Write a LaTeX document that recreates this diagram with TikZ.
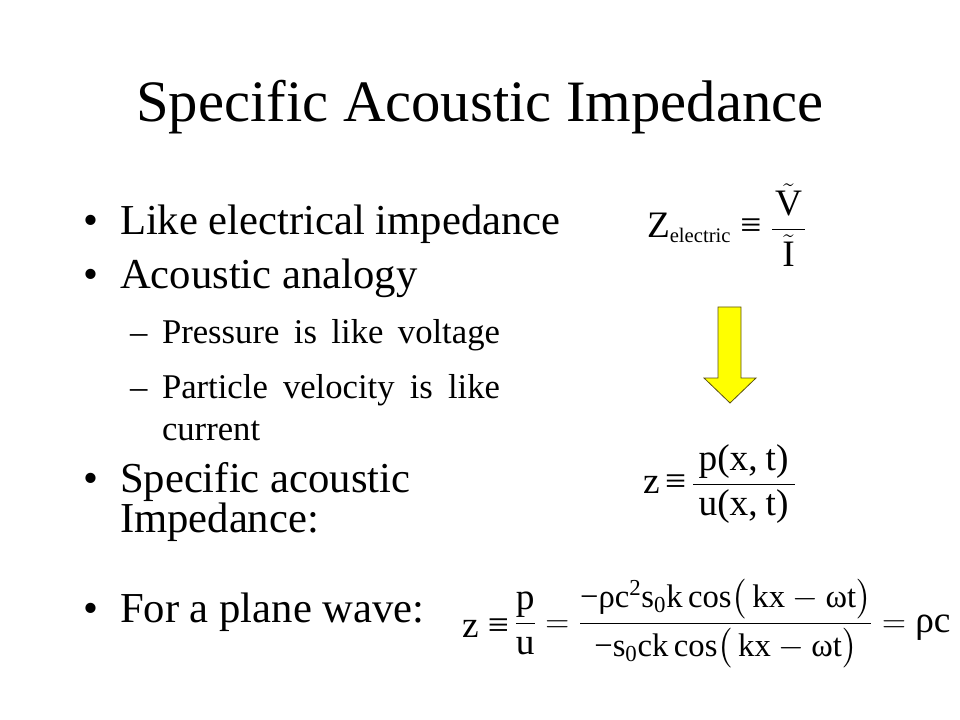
\documentclass[tikz,border=0pt]{standalone}
\usepackage{amsmath}
\usepackage{fontspec}
\setmainfont{Liberation Serif}
\definecolor{arrowyellow}{RGB}{255,255,0}
\definecolor{arrowedge}{RGB}{90,80,20}
\newcommand{\tx}[1]{\text{#1}}
\begin{document}
\begin{tikzpicture}[x=0.75pt,y=-0.75pt]
\useasboundingbox (0,0) rectangle (960,720);
\tikzset{
  txt/.style={anchor=base west,inner sep=0pt,outer sep=0pt},
  lvlone/.style={txt,font=\fontsize{32}{38}\selectfont},
  lvltwo/.style={txt,font=\fontsize{26}{30}\selectfont},
  eqn/.style={txt,font=\fontsize{28}{32}\selectfont},
  blockarrow/.style={fill=arrowyellow,draw=arrowedge,line width=0.6pt,line join=miter}
}
% title
\node[anchor=base,inner sep=0pt] (title) at (480,122) {\fontsize{44}{50}\selectfont Specific Acoustic Impedance};
% bullets
\node[lvlone] (d1) at (83,235) {\textbullet};
\node[lvlone] (b1) at (120,235) {Like electrical impedance};
\node[lvlone] (d2) at (83,288) {\textbullet};
\node[lvlone] (b2) at (120,288) {Acoustic analogy};
\node[lvltwo] (s1d) at (130,343) {–};
\node[lvltwo] (s1) at (162,343) {\makebox[253.5pt][s]{Pressure is like voltage}};
\node[lvltwo] (s2d) at (130,398) {–};
\node[lvltwo] (s2) at (162,398) {\makebox[253.5pt][s]{Particle velocity is like}};
\node[lvltwo] (s2b) at (162,440) {current};
\node[lvlone] (d3) at (83,492) {\textbullet};
\node[lvlone] (b3) at (120,492) {Specific acoustic};
\node[lvlone] (b3b) at (120,532) {Impedance:};
\node[lvlone] (d4) at (83,622) {\textbullet};
\node[lvlone] (b4) at (120,622) {For a plane wave:};
% formula 1
\node[eqn] (f1) at (647,238) {$\tx{Z}_{\tx{\fontsize{15.5}{18}\selectfont electric}}\;\tx{≡}\;\dfrac{\kern2pt\tilde{\tx{V}}\kern2pt}{\tilde{\tx{I}}}$};
% arrow
\draw[blockarrow] (718,307) -- (741,307) -- (741,378) -- (756,378) -- (730,403) -- (704,378) -- (718,378) -- cycle;
% formula 2
\node[eqn] (f2) at (643,493) {$\tx{z}\,\tx{≡}\,\dfrac{\kern4pt\tx{p(x,\kern6pt t)}\kern5pt}{\kern4pt\tx{u(x,\kern6pt t)}\kern5pt}$};
% formula 3
\node[eqn] (f3) at (462,632) {$\raisebox{-4pt}{\tx{z}}\;\raisebox{-4pt}{\tx{≡}}\,\dfrac{\tx{p}}{\tx{u}} = \text{\fontsize{24.5}{28}\selectfont$\dfrac{\tx{−ρc}^{\tx{2}}\tx{s}_{\tx{0}}\tx{k}\,\tx{cos}\bigl(\,\tx{kx}-\tx{ωt}\bigr)}{\tx{−s}_{\tx{0}}\tx{ck}\,\tx{cos}\bigl(\,\tx{kx}-\tx{ωt}\bigr)}$} = \tx{ρc}$};
\end{tikzpicture}
\end{document}
